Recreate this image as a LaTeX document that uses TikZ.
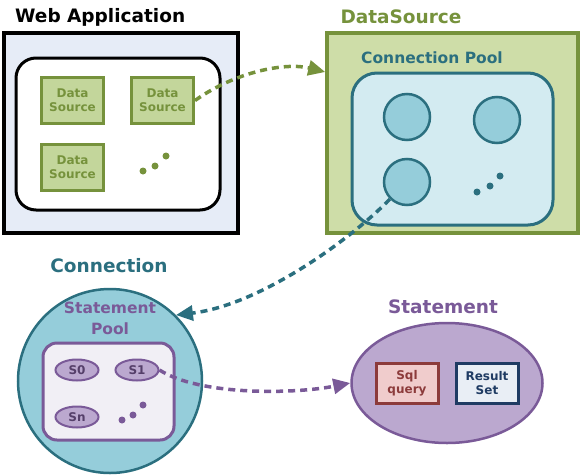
\documentclass[tikz,border=0pt]{standalone}
\usepackage{fontspec}
\setmainfont{DejaVu Sans}
\usetikzlibrary{shapes.geometric,arrows.meta}
\definecolor{webfill}{HTML}{E6ECF7}
\definecolor{dsgreen}{HTML}{76923C}
\definecolor{dsfill}{HTML}{C3D69B}
\definecolor{dsouter}{HTML}{CEDDA8}
\definecolor{teal}{HTML}{2B6F7F}
\definecolor{poolfill}{HTML}{D3EBF1}
\definecolor{conn}{HTML}{95CDDA}
\definecolor{purp}{HTML}{7A5A98}
\definecolor{stfill}{HTML}{BBA8CF}
\definecolor{spfill}{HTML}{F1EFF5}
\definecolor{sqlred}{HTML}{8C3B3B}
\definecolor{sqlfill}{HTML}{F0CCCC}
\definecolor{navy}{HTML}{1F3B63}
\definecolor{rsfill}{HTML}{E9EEF5}
\begin{document}
\begin{tikzpicture}[x=1pt,y=-1pt,
  title/.style={font=\bfseries\fontsize{18.5}{20}\selectfont},
  dsbox/.style={draw=dsgreen, fill=dsfill, line width=3pt, minimum width=62pt, minimum height=46pt,
    inner sep=1pt, text=dsgreen, align=center, font=\bfseries\fontsize{12}{14}\selectfont},
  conbox/.style={circle, draw=teal, fill=conn, line width=2.5pt, minimum size=46pt},
  stell/.style={ellipse, draw=purp, fill=stfill, line width=2pt, minimum width=43pt, minimum height=21pt,
    inner sep=0pt, text=purp!70!black, font=\bfseries\fontsize{12}{14}\selectfont},
  inbox/.style={line width=3pt, minimum width=62pt, minimum height=40pt, inner sep=1pt, align=center,
    font=\bfseries\fontsize{12}{14}\selectfont},
  dot/.style={circle, fill, inner sep=0pt, minimum size=7pt},
  dashline/.style={line width=3.5pt, dash pattern=on 7pt off 5pt, -{Triangle[length=17pt,width=15pt]}}]
\useasboundingbox (0,0) rectangle (583,474);
% web application
\node[title, anchor=west, inner sep=0pt] (webt) at (15,17) {Web Application};
\draw[fill=webfill, line width=3.5pt] (4,33) rectangle (238,233);
\draw[fill=white, line width=3pt, rounded corners=20pt] (16,58) rectangle (220,210);
\node[dsbox] (ds0) at (72.5,100.5) {Data\\Source};
\node[dsbox] (ds1) at (162.5,100.5) {Data\\Source};
\node[dsbox] (ds2) at (72.5,167.5) {Data\\Source};
\node[dot, dsgreen] (wd0) at (143,171) {};
\node[dot, dsgreen] (wd1) at (155,166) {};
\node[dot, dsgreen] (wd2) at (166,156) {};
% datasource
\node[title, text=dsgreen] (dst) at (401,17) {DataSource};
\node[draw=dsgreen, fill=dsouter, line width=3.5pt, minimum width=251pt, minimum height=200pt] (dsrc) at (452.5,133) {};
\node[title, text=teal, font=\bfseries\fontsize{15.5}{17}\selectfont] (cpt) at (432,58) {Connection Pool};
\draw[draw=teal, fill=poolfill, line width=3pt, rounded corners=25pt] (352,73) rectangle (553,225);
\node[conbox] (c0) at (407,117) {};
\node[conbox] (c1) at (497,120) {};
\node[conbox] (c2) at (407,182) {};
\node[dot, teal] (cd0) at (477,192) {};
\node[dot, teal] (cd1) at (490,186) {};
\node[dot, teal] (cd2) at (500,176) {};
% connection
\node[title, text=teal] (cont) at (109,266) {Connection};
\node[circle, draw=teal, fill=conn, line width=2.5pt, minimum size=184pt] (conn) at (110,381) {};
\node[text=purp, align=center, font=\bfseries\fontsize{15.5}{21}\selectfont] (spt) at (110,318) {Statement\\Pool};
\draw[draw=purp, fill=spfill, line width=3pt, rounded corners=14pt] (43,343) rectangle (174,440);
\node[stell] (s0) at (77,370) {S0};
\node[stell] (s1) at (137,370) {S1};
\node[stell] (sn) at (77,417) {Sn};
\node[dot, purp] (sd0) at (122,420) {};
\node[dot, purp] (sd1) at (133,415) {};
\node[dot, purp] (sd2) at (143,405) {};
% statement
\node[title, text=purp] (stt) at (443,307) {Statement};
\node[ellipse, draw=purp, fill=stfill, line width=2.5pt, minimum width=191pt, minimum height=120pt] (stmt) at (447,383) {};
\node[inbox, draw=sqlred, fill=sqlfill, text=sqlred] (sql) at (407,383) {Sql\\query};
\node[inbox, draw=navy, fill=rsfill, text=navy] (rs) at (487,383) {Result\\Set};
% arrows
\draw[dashline, dsgreen] (ds1.east) .. controls (235,72) and (285,62) .. (dsrc.west |- 0,72);
\draw[dashline, teal] (c2.south west) .. controls (350,240) and (260,305) .. (conn.north east);
\draw[dashline, purp] (s1.east) .. controls (200,396) and (295,394) .. (stmt.west);
\end{tikzpicture}
\end{document}
